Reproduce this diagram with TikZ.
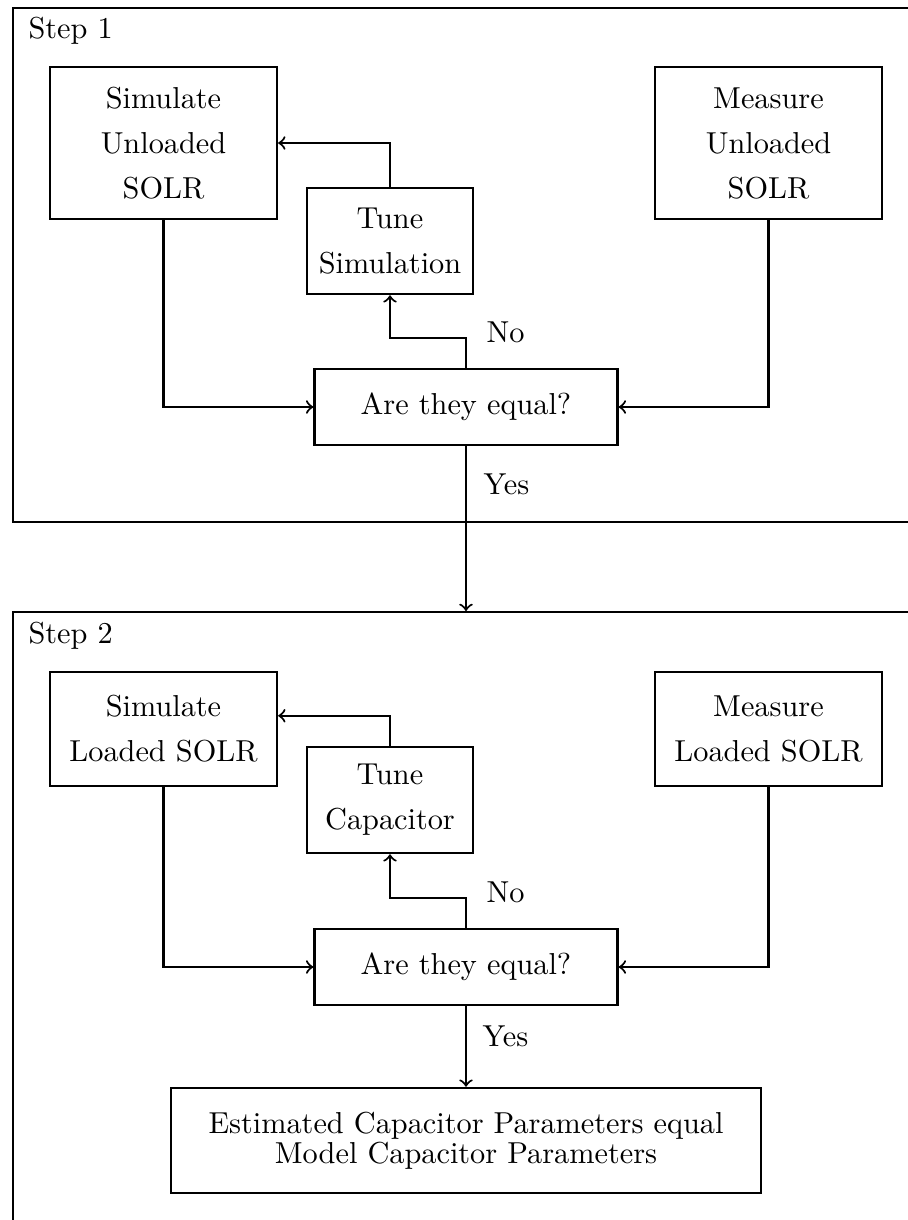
\documentclass[tikz,border=0pt]{standalone}
\usetikzlibrary{calc}
\begin{document}
\begin{tikzpicture}[x=0.33pt,y=-0.33pt,
  box/.style={draw, line width=0.8pt, align=center, inner sep=0pt, font=\fontsize{10}{14.85}\selectfont},
  bigbox/.style={box, minimum width=74.9pt, minimum height=50.2pt},
  midbox/.style={box, minimum width=74.9pt, minimum height=37.6pt},
  tunebox/.style={box, minimum width=54.8pt, minimum height=35pt},
  eqbox/.style={box, minimum width=100pt, minimum height=25.1pt},
  estbox/.style={box, minimum width=194.7pt, minimum height=34.7pt, font=\fontsize{10}{9.9}\selectfont},
  frame/.style={draw, line width=0.8pt, inner sep=0pt, anchor=north west, minimum width=299.6pt},
  conn/.style={line width=0.7pt, ->},
  lbl/.style={anchor=base west, inner sep=0pt}]
\useasboundingbox (0,0) rectangle (908,1220);
\clip (0,0) rectangle (908,1220);
% frames
\node[frame, minimum height=169.6pt] (frame1) at (12,7) {};
\node[frame, minimum height=207.6pt] (frame2) at (12,611) {};
\node[lbl] (step1) at (28,38) {Step 1};
\node[lbl] (step2) at (28,643) {Step 2};
% step 1
\node[bigbox] (sim1) at (163.5,143) {Simulate\\Unloaded\\SOLR};
\node[bigbox] (meas1) at (768.5,143) {Measure\\Unloaded\\SOLR};
\node[tunebox] (tune1) at (390,241) {Tune\\Simulation};
\node[eqbox] (are1) at (466,407) {Are they equal?};
\node[lbl] (no1) at (486,342) {No};
\node[lbl] (yes1) at (483,494) {Yes};
\draw[conn] (sim1.south) |- (are1.west);
\draw[conn] (meas1.south) |- (are1.east);
\draw[conn] (are1.north) -- ++(0,-30) -| (tune1.south);
\draw[conn] (tune1.north) |- (sim1.east);
\draw[conn] (are1.south) -- (are1.south |- frame2.north);
% step 2
\node[midbox] (sim2) at (163.5,729) {Simulate\\Loaded SOLR};
\node[midbox] (meas2) at (768.5,729) {Measure\\Loaded SOLR};
\node[tunebox] (tune2) at (390,800) {Tune\\Capacitor};
\node[eqbox] (are2) at (466,967) {Are they equal?};
\node[lbl] (no2) at (486,902) {No};
\node[lbl] (yes2) at (482,1046) {Yes};
\node[estbox] (est) at (466,1140.5) {Estimated Capacitor Parameters equal\\Model Capacitor Parameters};
\coordinate (bend2) at ($(tune2.north)+(0,-30)$);
\draw[conn] (are2.north) -- ++(0,-30) -| (tune2.south);
\draw[conn] (tune2.north) -- (bend2) -- (bend2 -| sim2.east);
\draw[conn] (sim2.south) |- (are2.west);
\draw[conn] (meas2.south) |- (are2.east);
\draw[conn] (are2.south) -- (est.north);
\end{tikzpicture}
\end{document}
